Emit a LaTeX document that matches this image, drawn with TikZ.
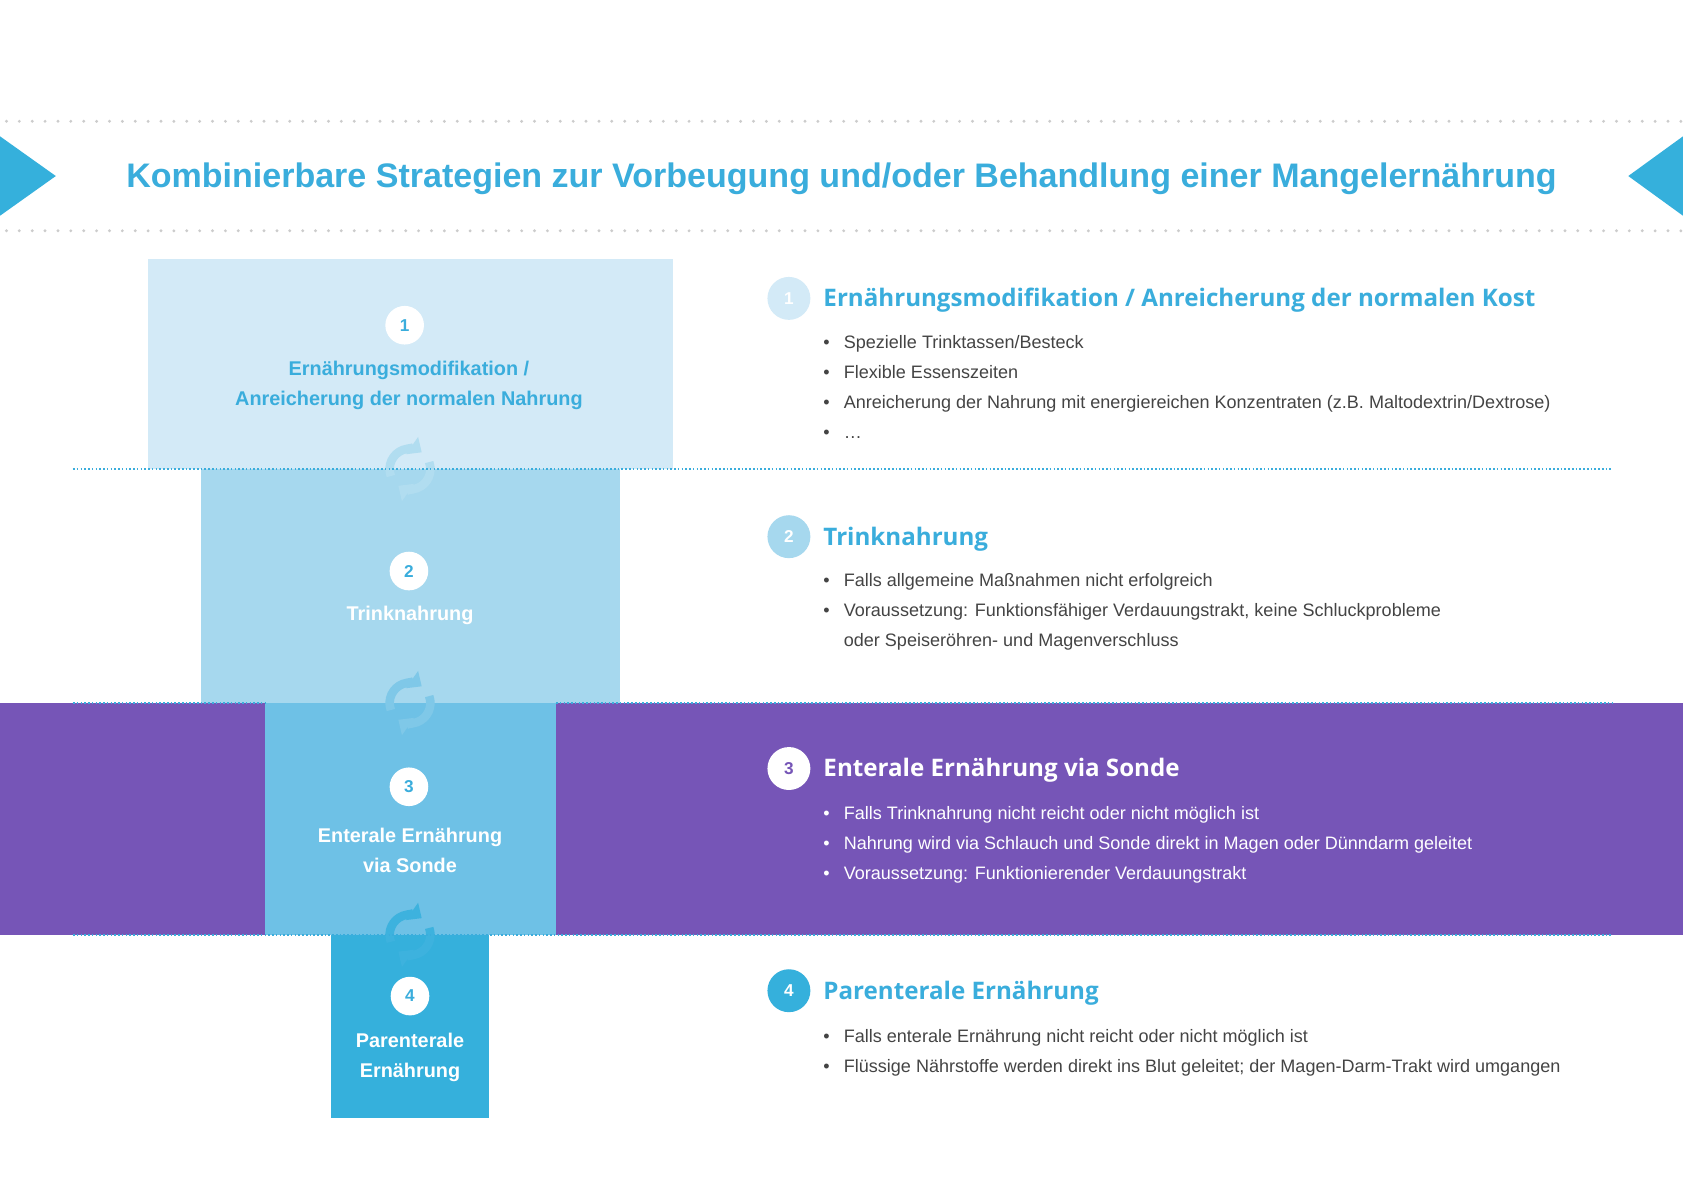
\documentclass[tikz,border=0pt]{standalone}
\usepackage{fontspec}
\setmainfont{Liberation Sans}
\newfontfamily\osans{Open Sans}
\usetikzlibrary{arrows.meta}
\definecolor{tblue}{HTML}{3AADDC}
\definecolor{c1}{HTML}{D3EAF7}
\definecolor{c2}{HTML}{A6D8EE}
\definecolor{c3}{HTML}{6EC1E6}
\definecolor{c4}{HTML}{35B0DC}
\definecolor{purp}{HTML}{7655B7}
\definecolor{txt}{HTML}{444444}
\definecolor{dotg}{HTML}{CCCCCC}
\tikzset{
  boxtxt/.style={font=\bfseries\fontsize{18.5}{28}\selectfont,align=center},
  numc/.style={circle,fill=white,minimum size=36pt,inner sep=0pt,font=\bfseries\fontsize{16}{16}\selectfont,text=tblue},
  rnum/.style={circle,minimum size=40pt,inner sep=0pt,font=\bfseries\fontsize{16}{16}\selectfont,text=white},
  head/.style={anchor=west,font=\osans\bfseries\fontsize{22.5}{26}\selectfont,text=tblue,inner sep=0pt},
  bul/.style={anchor=north west,inner sep=0pt,font=\fontsize{16.8}{28}\selectfont,text=txt,align=left},
  sep/.style={tblue,line width=1.2pt,dash pattern=on 1.5pt off 2pt},
  gdot/.style={dotg,line width=3pt,line cap=round,dash pattern=on 0pt off 12pt},
}
\newcommand{\cyc}[2]{%
  \begin{scope}[shift={(#1)},yscale=-1]
    \draw[#2,line width=8pt,-{Triangle[length=11pt,width=19pt]}] (200:19) arc (200:55:19);
    \draw[#2,line width=8pt,-{Triangle[length=11pt,width=19pt]}] (20:19) arc (20:-125:19);
  \end{scope}}
\begin{document}
\begin{tikzpicture}[x=1pt,y=-1pt]
\useasboundingbox (0,0) rectangle (1568,1109);
\fill[white] (0,0) rectangle (1568,1109);
% header
\draw[gdot] (6,113) -- (1568,113);
\draw[gdot] (6,215) -- (1568,215);
\fill[c4] (0,127) -- (52,164) -- (0,201) -- cycle;
\fill[c4] (1568,127) -- (1517,164) -- (1568,201) -- cycle;
\node[font=\bfseries\fontsize{31.7}{36}\selectfont,text=tblue] (title) at (784,167) {Kombinierbare Strategien zur Vorbeugung und/oder Behandlung einer Mangelernährung};
% bands
\fill[purp] (0,655) rectangle (1568,871);
\fill[c1] (138,241) rectangle (627,437);
\fill[c2] (187,437) rectangle (578,655);
\fill[c3] (247,655) rectangle (518,871);
\fill[c4] (308,871) rectangle (456,1042);
% cycle icons
\cyc{382,437}{c2!75!c1}
\cyc{382,655}{c3!70!c2}
\cyc{382,871}{c4!85!c3}
\draw[sep] (68,437) -- (1502,437);
\draw[sep] (68,655) -- (247,655);
\draw[sep] (518,655) -- (1502,655);
\draw[sep] (68,871) -- (1502,871);
% left boxes
\node[numc] (n1) at (377,303) {1};
\node[boxtxt,text=tblue] (t1) at (381,359) {Ernährungsmodifikation /\\Anreicherung der normalen Nahrung};
\node[numc] (n2) at (381,532) {2};
\node[boxtxt,text=white] (t2) at (382,573) {Trinknahrung};
\node[numc] (n3) at (381,733) {3};
\node[boxtxt,text=white] (t3) at (382,792) {Enterale Ernährung\\via Sonde};
\node[numc] (n4) at (382,928) {4};
\node[boxtxt,text=white] (t4) at (382,985) {Parenterale\\Ernährung};
% right side
\node[rnum,fill=c1] (r1) at (735,278) {1};
\node[head] (h1) at (767,280) {Ernährungsmodifikation / Anreicherung der normalen Kost};
\newcommand{\bl}{\makebox[19pt][l]{•}}
\node[bul] (b1) at (767,312) {\bl Spezielle Trinktassen/Besteck\\\bl Flexible Essenszeiten\\\bl Anreicherung der Nahrung mit energiereichen Konzentraten (z.B. Maltodextrin/Dextrose)\\\bl …};
\node[rnum,fill=c2] (r2) at (735,500) {2};
\node[head] (h2) at (767,502) {Trinknahrung};
\node[bul] (b2) at (767,534) {\bl Falls allgemeine Maßnahmen nicht erfolgreich\\\bl Voraussetzung: Funktionsfähiger Verdauungstrakt, keine Schluckprobleme\\\hspace*{19pt}oder Speiseröhren- und Magenverschluss};
\node[rnum,fill=white,text=purp] (r3) at (735,716) {3};
\node[head,text=white] (h3) at (767,718) {Enterale Ernährung via Sonde};
\node[bul,text=white] (b3) at (767,751) {\bl Falls Trinknahrung nicht reicht oder nicht möglich ist\\\bl Nahrung wird via Schlauch und Sonde direkt in Magen oder Dünndarm geleitet\\\bl Voraussetzung: Funktionierender Verdauungstrakt};
\node[rnum,fill=c4] (r4) at (735,923) {4};
\node[head] (h4) at (767,925) {Parenterale Ernährung};
\node[bul] (b4) at (767,959) {\bl Falls enterale Ernährung nicht reicht oder nicht möglich ist\\\bl Flüssige Nährstoffe werden direkt ins Blut geleitet; der Magen-Darm-Trakt wird umgangen};
\end{tikzpicture}
\end{document}
